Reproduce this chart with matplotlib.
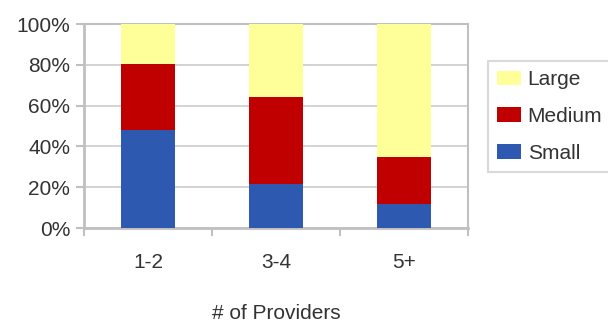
import matplotlib.pyplot as plt
import numpy as np

plt.rcParams['font.family'] = ['Liberation Sans', 'DejaVu Sans']

groups = ["1-2", "3-4", "5+"]
small = [48, 21.5, 12]
medium = [32.5, 42.5, 23]
large = [19.5, 36, 65]

colors = {"Small": "#2E59B0", "Medium": "#C00000", "Large": "#FFFF99"}
grey = "#C0C0C0"

fig = plt.figure(figsize=(6.08, 3.24), dpi=100)
ax = fig.add_axes([84 / 608, 96 / 324, 384 / 608, 204 / 324])

x = np.arange(len(groups))
w = 0.42
b_small = ax.bar(x, small, w, color=colors["Small"], label="Small", zorder=3)
b_med = ax.bar(x, medium, w, bottom=small, color=colors["Medium"], label="Medium", zorder=3)
bottom2 = [s + m for s, m in zip(small, medium)]
b_large = ax.bar(x, large, w, bottom=bottom2, color=colors["Large"], label="Large", zorder=3)

ax.set_xlim(-0.5, len(groups) - 0.5)
ax.set_ylim(0, 100)
ax.set_yticks(range(0, 101, 20))
ax.set_yticklabels([f"{v}%" for v in range(0, 101, 20)], fontsize=15, color="#333333")
ax.set_xticks(x)
ax.set_xticklabels(groups, fontsize=15, color="#333333")
ax.set_xticks(np.arange(-0.5, len(groups)), minor=True)
ax.tick_params(axis="x", which="major", length=0, pad=18)
ax.tick_params(axis="x", which="minor", length=6, color=grey, width=1.5)
ax.tick_params(axis="y", length=6, color=grey, width=1.5, pad=4)
ax.grid(axis="y", color="#CCCCCC", linewidth=1.2, zorder=0)

for s in ax.spines.values():
    s.set_color(grey)
    s.set_linewidth(1.5)
ax.spines["left"].set_linewidth(2)
ax.spines["bottom"].set_linewidth(2)

ax.set_xlabel("# of Providers", fontsize=15, color="#333333", labelpad=23)

leg = ax.legend([b_large, b_med, b_small], ["Large", "Medium", "Small"],
                loc="upper left", bbox_to_anchor=(1.052, 0.819), borderaxespad=0,
                fontsize=15, frameon=True, fancybox=False,
                handlelength=1.15, handleheight=0.72, labelspacing=0.85,
                borderpad=0.45, handletextpad=0.3)
leg.get_frame().set_edgecolor("#D0D0D0")
leg.get_frame().set_linewidth(1.5)
for t in leg.get_texts():
    t.set_color("#333333")

fig.savefig("out.png", dpi=100)
